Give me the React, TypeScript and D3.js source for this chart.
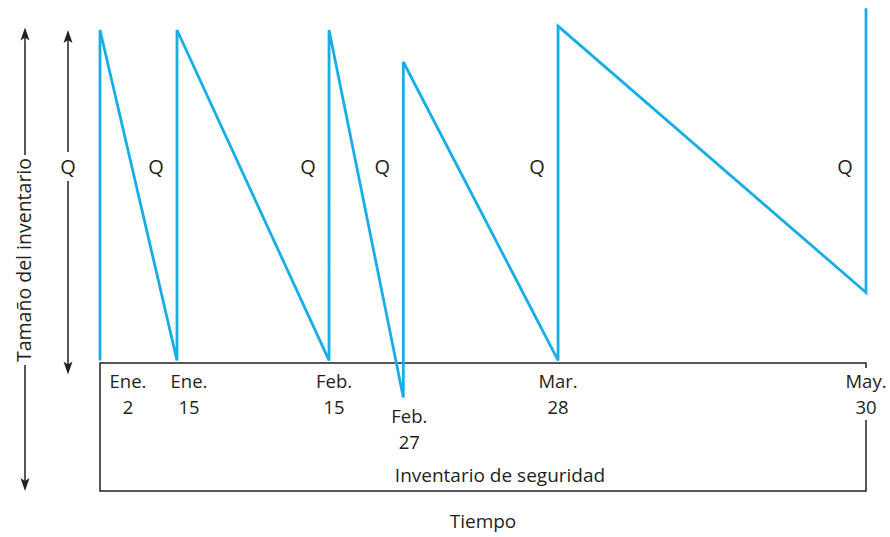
import React from "react";
import * as d3 from "d3";

// Order/receipt moments (time units, 0..100 scale)
const orderTimes = [0, 10.05, 29.9, 39.6, 59.8, 100];
// Inventory level just before each receipt and right after it
const levelBefore = [102, 102, 102, 73, 102, 155];
const levelAfter = [360, 360, 360, 335, 363, 377];
const safetyStock = 100;
const maxLevel = 362;

const dateMonths = ["Ene.", "Ene.", "Feb.", "Feb.", "Mar.", "May."];
const dateDays = ["2", "15", "15", "27", "28", "30"];
const labelDx = [28, 12, 5, 6, 0, 0];
const labelDy = [0, 0, 0, 35, 0, 0];
const qLabel = "Q";

const W = 890;
const H = 537;
const FONT = "'Open Sans', Lato, sans-serif";
const BLUE = "#17aee8";
const INK = "#231f20";

export default function App() {
  const x = d3.scaleLinear().domain([0, 100]).range([100, 866]);
  const y = d3.scaleLinear().domain([0, 360]).range([491, 30]);

  const pts: [number, number][] = [];
  orderTimes.forEach((t, i) => {
    pts.push([t, levelBefore[i]]);
    pts.push([t, levelAfter[i]]);
  });
  const line = d3
    .line<[number, number]>()
    .x((d) => x(d[0]))
    .y((d) => y(d[1]));

  const boxTop = y(safetyStock);
  const boxBot = y(0);
  const xl = x(0);
  const xr = x(100);

  const arrowHead = (cx: number, cy: number, dir: number) =>
    `M${cx},${cy} L${cx - 4.5},${cy - dir * 13} L${cx},${cy - dir * 10} L${cx + 4.5},${cy - dir * 13} Z`;

  const outerX = 25;
  const innerX = 68;
  const outerTop = y(maxLevel);
  const outerBot = y(0);
  const innerTop = y(360);
  const innerBot = y(91);
  const qY = 167;

  return (
    <svg
      width={W}
      height={H}
      style={{ position: "absolute", left: 0, top: 0, background: "#fff" }}
      fontFamily={FONT}
    >
      <rect width={W} height={H} fill="#fff" />
      {/* safety stock box */}
      <path
        d={`M${xr},368 L${xr},${boxTop} L${xl},${boxTop} L${xl},${boxBot} L${xr},${boxBot} L${xr},420`}
        fill="none"
        stroke={INK}
        strokeWidth={1.5}
      />
      {/* sawtooth */}
      <path d={line(pts) || ""} fill="none" stroke={BLUE} strokeWidth={2.8} strokeLinejoin="miter" />

      {/* outer axis arrow */}
      <line x1={outerX} x2={outerX} y1={outerTop + 8} y2={155} stroke={INK} strokeWidth={1.5} />
      <line x1={outerX} x2={outerX} y1={365} y2={outerBot - 8} stroke={INK} strokeWidth={1.5} />
      <path d={arrowHead(outerX, outerTop, -1)} fill={INK} />
      <path d={arrowHead(outerX, outerBot, 1)} fill={INK} />
      <text
        transform={`translate(${outerX + 6},260) rotate(-90)`}
        textAnchor="middle"
        fontSize={19.5}
        fill={INK}
      >
        Tamaño del inventario
      </text>

      {/* Q arrow */}
      <line x1={innerX} x2={innerX} y1={innerTop + 8} y2={152} stroke={INK} strokeWidth={1.5} />
      <line x1={innerX} x2={innerX} y1={181} y2={innerBot - 8} stroke={INK} strokeWidth={1.5} />
      <path d={arrowHead(innerX, innerTop, -1)} fill={INK} />
      <path d={arrowHead(innerX, innerBot, 1)} fill={INK} />
      <text x={innerX} y={qY + 7} textAnchor="middle" fontSize={20} fill={INK}>
        {qLabel}
      </text>

      {/* Q labels beside each replenishment */}
      {orderTimes.slice(1).map((t, i) => (
        <text key={"q" + i} x={x(t) - 21} y={qY + 7} textAnchor="middle" fontSize={20} fill={INK}>
          {qLabel}
        </text>
      ))}

      {/* date labels */}
      {orderTimes.map((t, i) => (
        <g key={"d" + i}>
          <text x={x(t) + labelDx[i]} y={388 + labelDy[i]} textAnchor="middle" fontSize={18.5} fill={INK}>
            {dateMonths[i]}
          </text>
          <text x={x(t) + labelDx[i]} y={414 + labelDy[i]} textAnchor="middle" fontSize={18.5} fill={INK}>
            {dateDays[i]}
          </text>
        </g>
      ))}

      <text x={500} y={482} textAnchor="middle" fontSize={19} fill={INK}>
        Inventario de seguridad
      </text>
      <text x={483} y={528} textAnchor="middle" fontSize={19} fill={INK}>
        Tiempo
      </text>
    </svg>
  );
}
